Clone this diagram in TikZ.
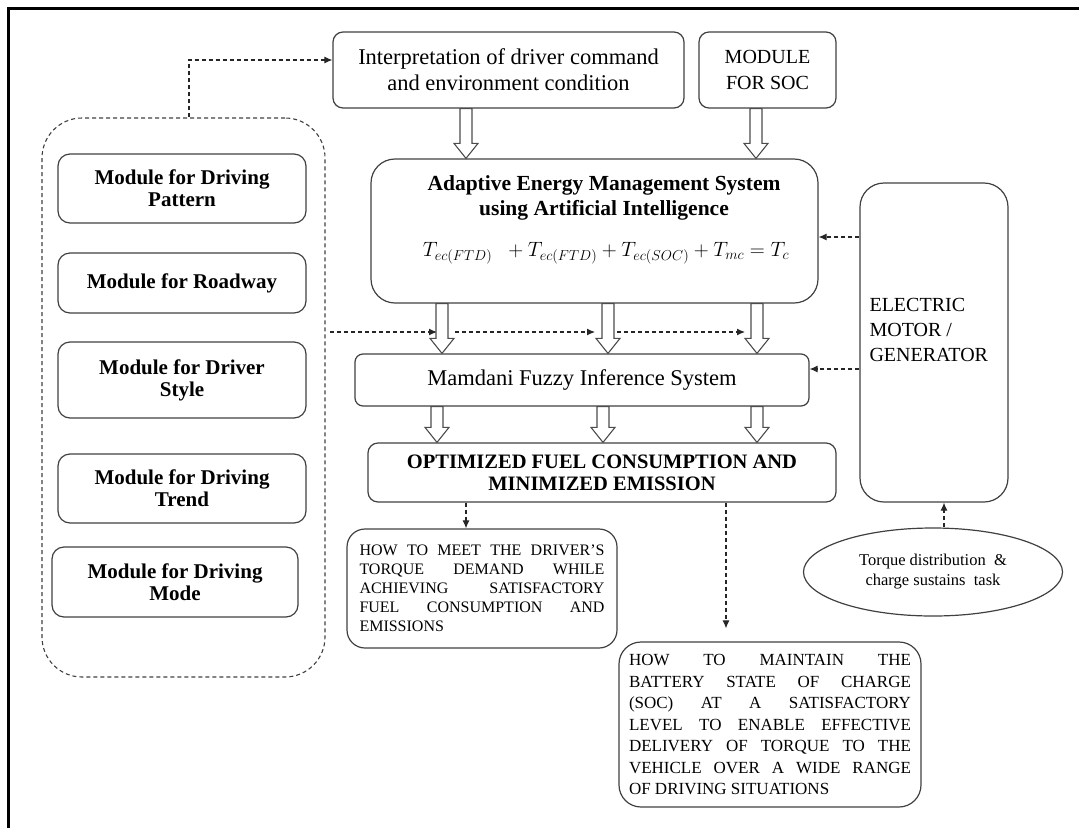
\documentclass[tikz,border=0pt]{standalone}
\usepackage{fontspec}
\setmainfont{Liberation Serif}
\usepackage{amsmath}
\usetikzlibrary{arrows.meta,shapes.geometric,calc,positioning}
\tikzset{
  box/.style={draw=black!75, line width=1.2pt, rounded corners=10pt, align=center, inner sep=0pt},
  modbox/.style={box, rounded corners=12pt, font=\bfseries\fs{21}{22}, minimum width=248pt},
  dashconn/.style={draw=black!85, line width=1.1pt, dash pattern=on 4pt off 3pt, -{Latex[length=8pt,width=7pt]}}
}
\newcommand{\fs}[2]{\fontsize{#1}{#2}\selectfont}
\newcommand{\jline}[2]{\makebox[#1][s]{#2}}
% hollow block arrow from (#1) down to (#2)
\newcommand{\hollowarrow}[2]{%
  \draw[black!70, line width=1.1pt, fill=white] let \p1=(#1), \p2=(#2) in
    ({\x1-6pt},\y1) -- ({\x1+6pt},\y1) -- ({\x1+6pt},{\y2+15pt}) -- ({\x1+12pt},{\y2+15pt})
    -- (\x1,\y2) -- ({\x1-12pt},{\y2+15pt}) -- ({\x1-6pt},{\y2+15pt}) -- cycle;}

\begin{document}
\begin{tikzpicture}[x=1pt,y=-1pt]
\useasboundingbox (0,0) rectangle (1079,828);
\draw[line width=3pt] (8,828) -- (8,8) -- (1079,8); %frame

%top boxes
\node[box, font=\fs{22.5}{26}, minimum width=351pt, minimum height=76pt] (interp) at (508.5,70)
  {Interpretation of driver command\\and environment condition};
\node[box, font=\fs{20}{26}, minimum width=137pt, minimum height=76pt] (soc) at (767.5,70)
  {MODULE\\FOR SOC};

%energy management
\node[box, rounded corners=24pt, minimum width=447pt, minimum height=144pt] (aems) at (594.5,231) {};
\node[font=\bfseries\fs{21.5}{25}, align=center] (aemstitle) at (604,197.5)
  {Adaptive Energy Management System\\using Artificial Intelligence};
\node[font=\fs{20}{24}] (aemseq) at (606,253)
  {$T_{ec(FTD)}\;\;+T_{ec(FTD)}+T_{ec(SOC)}+T_{mc}=T_c$};

\node[box, rounded corners=8pt, font=\fs{22.5}{26}, minimum width=454pt, minimum height=52pt] (mamdani) at (582,380)
  {Mamdani Fuzzy Inference System};
\node[box, font=\bfseries\fs{20.5}{22}, minimum width=468pt, minimum height=59pt] (opt) at (602,472.5)
  {OPTIMIZED FUEL CONSUMPTION AND\\MINIMIZED EMISSION};

%motor
\node[box, rounded corners=24pt, minimum width=148pt, minimum height=319pt] (em) at (934,342.5) {};
\node[font=\fs{20}{25}, align=left, anchor=west] (emtext) at (866,330) {ELECTRIC\\MOTOR /\\GENERATOR};
\node[draw=black!75, line width=1.2pt, ellipse, minimum width=259pt, minimum height=88pt, align=center,
  font=\fs{16.5}{20}] (ell) at (933,572) {Torque distribution~~\&\\charge sustains~~task};

%questions
\node[box, rounded corners=18pt, font=\fs{16}{19}, align=left, minimum width=270pt, minimum height=119pt] (how1) at (482,588.5)
  {\jline{245pt}{HOW TO MEET THE DRIVER'S}\\\jline{245pt}{TORQUE DEMAND WHILE}\\
   \jline{245pt}{ACHIEVING SATISFACTORY}\\\jline{245pt}{FUEL CONSUMPTION AND}\\EMISSIONS};
\node[box, rounded corners=22pt, font=\fs{17}{21.5}, align=left, minimum width=302pt, minimum height=165pt] (how2) at (770,724.5)
  {\jline{282pt}{HOW TO MAINTAIN THE}\\\jline{282pt}{BATTERY STATE OF CHARGE}\\
   \jline{282pt}{(SOC) AT A SATISFACTORY}\\\jline{282pt}{LEVEL TO ENABLE EFFECTIVE}\\
   \jline{282pt}{DELIVERY OF TORQUE TO THE}\\\jline{282pt}{VEHICLE OVER A WIDE RANGE}\\OF DRIVING SITUATIONS};

%driver modules
\node[draw=black!75, line width=1.1pt, dash pattern=on 4pt off 3pt, rounded corners=40pt,
  minimum width=283pt, minimum height=559pt] (grp) at (183.5,397.5) {};
\node[modbox, minimum height=69pt] (pattern) at (182,188.5) {Module for Driving\\Pattern};
\node[modbox, minimum height=60pt] (roadway) at (182,283) {Module for Roadway};
\node[modbox, minimum height=76pt] (style) at (182,380) {Module for Driver\\Style};
\node[modbox, minimum height=69pt] (trend) at (182,488.5) {Module for Driving\\Trend};
\node[modbox, minimum width=246pt, minimum height=70pt] (mode) at (175,582) {Module for Driving\\Mode};

%dashed connectors
\draw[dashconn] ([xshift=5.5pt]grp.north) |- ([yshift=10pt]interp.west);
\coordinate (grpout) at (330,332);
\coordinate (h1) at (437,332);
\coordinate (h2a) at (455,332);
\coordinate (h2) at (595,332);
\coordinate (h3a) at (617,332);
\coordinate (h3) at (745,332);
\draw[dashconn] (grpout) -- (h1);
\draw[dashconn] (h2a) -- (h2);
\draw[dashconn] (h3a) -- (h3);
\draw[dashconn] (em.west |- 0,237) -- (aems.east |- 0,237);
\draw[dashconn] (em.west |- 0,369) -- (mamdani.east |- 0,369);
\draw[dashconn] ([xshift=11pt]ell.north) -- ([xshift=10pt]em.south);
\draw[dashconn] (opt.south -| 466,0) -- (how1.north -| 466,0);
\draw[dashconn, shorten >=13pt] (opt.south -| 726,0) -- (how2.north -| 726,0);

%block arrows
\hollowarrow{interp.south -| 466,0}{aems.north -| 466,0}
\hollowarrow{soc.south -| 756,0}{aems.north -| 756,0}
\hollowarrow{aems.south -| 442,0}{mamdani.north -| 442,0}
\hollowarrow{aems.south -| 608,0}{mamdani.north -| 608,0}
\hollowarrow{aems.south -| 757,0}{mamdani.north -| 757,0}
\hollowarrow{mamdani.south -| 437,0}{opt.north -| 437,0}
\hollowarrow{mamdani.south -| 603,0}{opt.north -| 603,0}
\hollowarrow{mamdani.south -| 757,0}{opt.north -| 757,0}
\end{tikzpicture}
\end{document}
